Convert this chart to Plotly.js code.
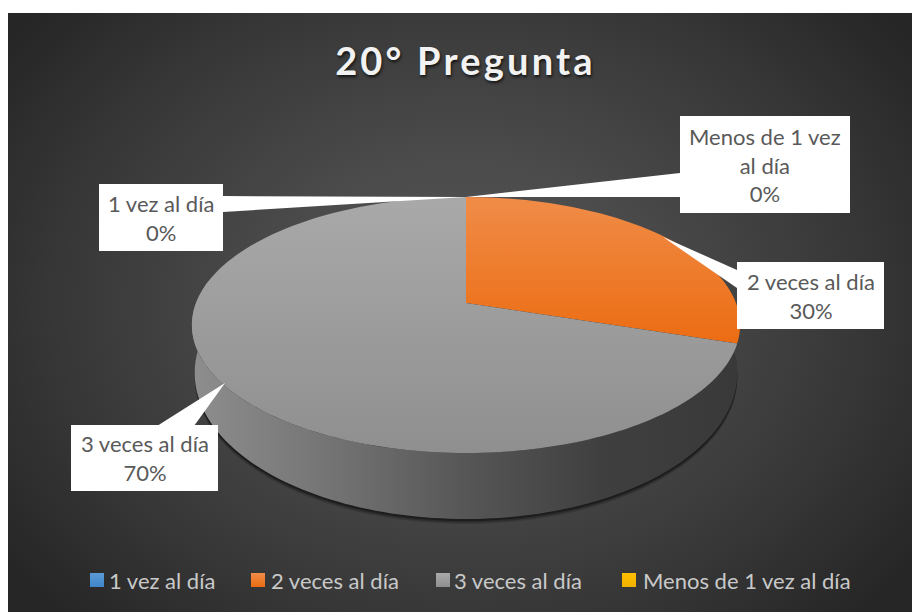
<!DOCTYPE html>
<html>
<head>
<meta charset="utf-8">
<script src="https://cdn.plot.ly/plotly-3.0.1.min.js"></script>
<style>
html,body{margin:0;padding:0;background:#fff;width:912px;height:612px;overflow:hidden}
#bg{position:absolute;left:8px;top:13px;width:904px;height:599px;
background:radial-gradient(ellipse 560px 440px at 452px 290px,#585858 0%,#4a4a4a 35%,#383838 70%,#262626 100%)}
#chart{position:absolute;left:0;top:0;width:912px;height:612px}
</style>
</head>
<body>
<div id="bg"></div>
<div id="chart"></div>
<script>
// ---- data
const categories = ["1 vez al día", "2 veces al día", "3 veces al día", "Menos de 1 vez al día"];
const values = [0, 30, 70, 0];
const percentLabels = ["0%", "30%", "70%", "0%"];
const titleText = "20° Pregunta";

// ---- styles
const sliceGradients = [
  ["#5b9bd5", "#3f86c9"],
  ["#f08c48", "#ec6c12"],
  ["#a9a9a9", "#8f8f8f"],
  ["#ffc000", "#f0b000"]
];
const labelFont = {family: "Lato, 'Open Sans', sans-serif", size: 22, color: "#595959"};
const legendFont = {family: "Lato, 'Open Sans', sans-serif", size: 22, color: "#c9c9c9"};

// ---- perspective projection of the pie's circle
const CX = 466, CY = 303, KX = 270, A = 124.2, C = 0.172;
// top face; the base is a slightly larger, lower ellipse
const BASE_CY = 373, BASE_YSCALE = 146 / 128, BASE_XSCALE = 0.99, TOP_MID = 22;
function project(u, v) {
  const w = 1 + C * v;
  return [CX + KX * u / w, CY - A * v / w];
}
function outline(a0, a1, base, dy) {
  const xs = [], ys = [];
  const n = Math.max(2, Math.ceil(Math.abs(a1 - a0) / 1.5));
  for (let i = 0; i <= n; i++) {
    const a = (a0 + (a1 - a0) * i / n) * Math.PI / 180;
    const p = project(Math.sin(a), Math.cos(a));
    if (base) {
      xs.push(CX + (p[0] - CX) * BASE_XSCALE);
      ys.push(BASE_CY + (dy || 0) + (p[1] - CY - TOP_MID) * BASE_YSCALE);
    } else {
      xs.push(p[0]); ys.push(p[1]);
    }
  }
  return [xs, ys];
}
const total = values.reduce((s, v) => s + v, 0);
const traces = [];

// soft shadow round the base
[[5, .14], [3.5, .22], [2, .34]].forEach(function (s) {
  const o = outline(0, 360, true, s[0]);
  traces.push({x: o[0], y: o[1], mode: "none", fill: "toself", fillcolor: "rgba(0,0,0," + s[1] + ")",
    hoverinfo: "skip", showlegend: false});
});

// side wall (front half between the two extremes of the ellipse)
(function () {
  const top = outline(80, 280, false);
  const bot = outline(280, 80, true);
  traces.push({
    x: top[0].concat(bot[0]), y: top[1].concat(bot[1]), mode: "none", fill: "toself",
    fillgradient: {type: "horizontal", colorscale: [
      [0, "#8e8e8e"], [0.25, "#747474"], [0.5, "#565656"], [0.75, "#3f3f3f"], [1, "#393939"]]},
    hoverinfo: "skip", showlegend: false
  });
})();

// top face slices, clockwise from twelve o'clock
let acc = 0;
values.forEach(function (v, i) {
  const a0 = acc / total * 360, a1 = (acc + v) / total * 360;
  acc += v;
  if (v === 0) return;
  const arc = outline(a0, a1, false);
  traces.push({
    x: [CX].concat(arc[0], [CX]), y: [CY].concat(arc[1], [CY]),
    mode: "none", fill: "toself", name: categories[i],
    fillgradient: {type: "vertical", colorscale: [[0, sliceGradients[i][1]], [1, sliceGradients[i][0]]]},
    hovertext: categories[i] + " " + percentLabels[i], hoverinfo: "text", showlegend: false
  });
});

// legend swatches
const swatchX = [97, 258, 443, 629];
categories.forEach(function (c, i) {
  traces.push({x: [swatchX[i]], y: [580], mode: "markers", name: c, showlegend: false, hoverinfo: "name",
    marker: {symbol: "square", size: 14, color: sliceGradients[i][0],
      gradient: {type: "vertical", color: sliceGradients[i][1]}}});
});

// data labels: box [x0,y0,x1,y1], callout triangle
const labelBoxes = [
  {i: 0, box: [99, 184, 223, 251], tri: [[223,196],[466,197],[223,212]], text: "1 vez al día<br>0%"},
  {i: 1, box: [737, 262, 884, 329], tri: [[737,270],[663,237],[737,288]], text: "2 veces al día<br>30%"},
  {i: 2, box: [71, 425, 218, 491], tri: [[157,426],[225,383],[194,426]], text: "3 veces al día<br>70%"},
  {i: 3, box: [680, 116, 850, 213], tri: [[680,173],[466,197],[680,197]], text: "Menos de 1 vez<br>al día<br>0%"}
];
const shapes = [], annotations = [];
labelBoxes.forEach(function (l) {
  shapes.push({type: "rect", xref: "x", yref: "y", x0: l.box[0], y0: l.box[1], x1: l.box[2], y1: l.box[3],
    fillcolor: "#ffffff", line: {width: 0}, layer: "above"});
  shapes.push({type: "path", xref: "x", yref: "y",
    path: "M" + l.tri.map(p => p[0] + " " + p[1]).join(" L") + " Z",
    fillcolor: "#ffffff", line: {width: 0}, layer: "above"});
  annotations.push({xref: "x", yref: "y", x: (l.box[0] + l.box[2]) / 2, y: (l.box[1] + l.box[3]) / 2,
    text: l.text, showarrow: false, font: labelFont, align: "center", xanchor: "center", yanchor: "middle"});
});
const legendTextX = [109, 271, 454, 643];
categories.forEach(function (c, i) {
  annotations.push({xref: "x", yref: "y", x: legendTextX[i], y: 580, text: c, showarrow: false,
    font: legendFont, xanchor: "left", yanchor: "middle", xshift: -2});
});

const layout = {
  width: 912, height: 612,
  margin: {l: 0, r: 0, t: 0, b: 0},
  paper_bgcolor: "rgba(0,0,0,0)", plot_bgcolor: "rgba(0,0,0,0)",
  showlegend: false,
  hovermode: "closest",
  title: {
    text: "<b>" + titleText + "</b>", x: 465.5 / 912, xanchor: "center", y: 1 - 62 / 612, yanchor: "middle",
    font: {family: "Lato, 'Open Sans', sans-serif", size: 38, color: "#f2f2f2", shadow: "1px 2px 3px rgba(0,0,0,0.7)"}
  },
  xaxis: {range: [0, 912], visible: false, fixedrange: true},
  yaxis: {range: [612, 0], visible: false, fixedrange: true},
  shapes: shapes, annotations: annotations
};
Plotly.newPlot("chart", traces, layout, {displayModeBar: false, responsive: false}).then(function () {
  document.querySelectorAll(".gtitle").forEach(function (t) { t.style.letterSpacing = "3.2px"; });
});
</script>
</body>
</html>
